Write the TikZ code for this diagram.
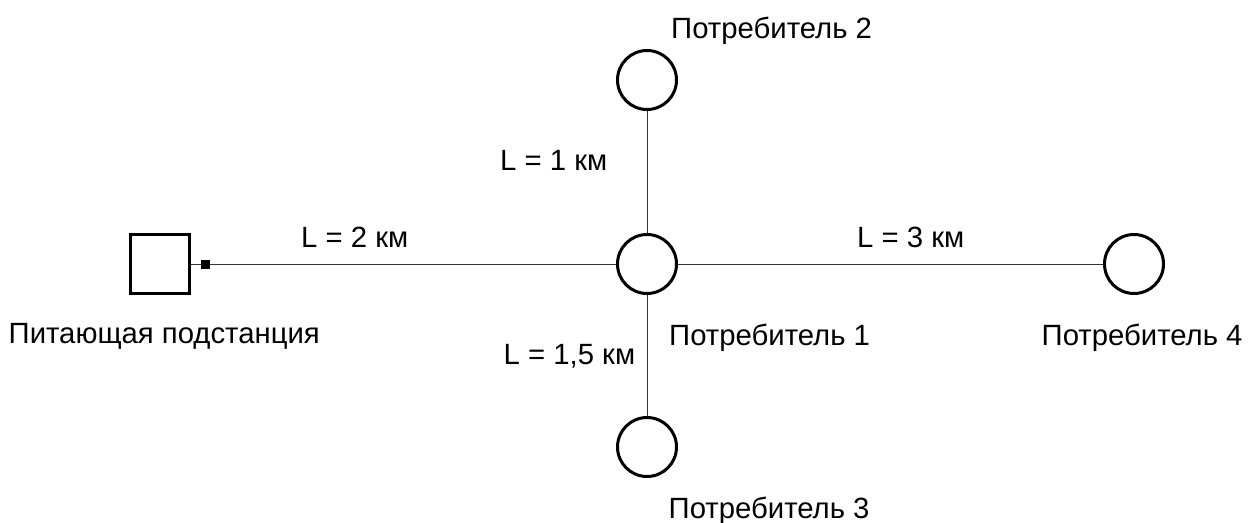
\documentclass[tikz,border=0pt]{standalone}
\usepackage{fontspec}
\setmainfont{Liberation Sans}
\begin{document}
\begin{tikzpicture}[x=1pt,y=-1pt,
  cons/.style={circle,draw=black,line width=3pt,minimum size=59pt,inner sep=0pt},
  subst/.style={rectangle,draw=black,line width=3pt,minimum size=59pt,inner sep=0pt},
  term/.style={rectangle,fill=black,minimum size=9pt,inner sep=0pt},
  wire/.style={draw=black!80,line width=1pt},
  lbl/.style={anchor=base west,inner sep=0pt,font=\fontsize{29.3}{32}\selectfont}]
\useasboundingbox (0,0) rectangle (1249,522);
\node[subst] (sub) at (160,264) {};
\node[term] (t) at (205.5,264) {};
\node[cons] (c1) at (647,264) {};
\node[cons] (c2) at (647,80) {};
\node[cons] (c3) at (647,447) {};
\node[cons] (c4) at (1134,264) {};
\draw[wire] (sub.east) -- (t.west);
\draw[wire] (t.east) -- (c1.west);
\draw[wire] (c1.north) -- (c2.south);
\draw[wire] (c1.south) -- (c3.north);
\draw[wire] (c1.east) -- (c4.west);
\node[lbl] (n2) at (671,38.3) {Потребитель 2};
\node[lbl] (l1) at (500,170.7) {L = 1 км};
\node[lbl] (l2) at (301,247.7) {L = 2 км};
\node[lbl] (l3) at (857,247.7) {L = 3 км};
\node[lbl] (ns) at (8.5,343) {Питающая подстанция};
\node[lbl] (n1) at (669,345) {Потребитель 1};
\node[lbl] (l15) at (503.5,364) {L = 1,5 км};
\node[lbl] (n4) at (1041.5,345) {Потребитель 4};
\node[lbl] (n3) at (668.5,518) {Потребитель 3};
\end{tikzpicture}
\end{document}
